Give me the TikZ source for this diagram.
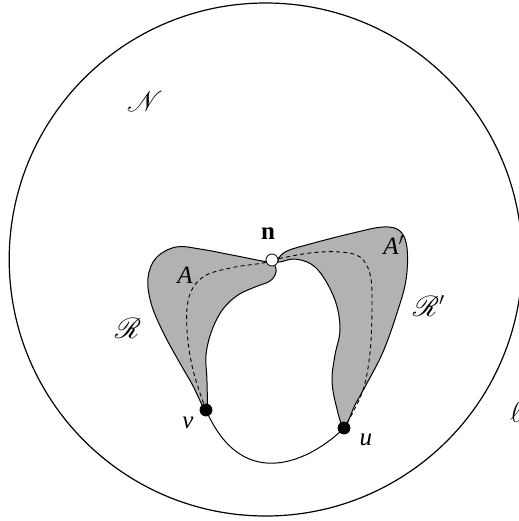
\documentclass[tikz,border=0pt]{standalone}
\usepackage{fontspec}
\setmainfont{Liberation Serif}
\usepackage{mathrsfs}
\tikzset{
  region/.style={draw=black, line width=0.5pt, fill=black!30},
  dashpath/.style={draw=black, line width=0.45pt, dash pattern=on 2pt off 1.6pt},
  blackdot/.style={circle, fill=black, draw=black, inner sep=0pt, minimum size=6pt},
  whitedot/.style={circle, fill=white, draw=black, line width=0.4pt, inner sep=0pt, minimum size=6pt},
  lbl/.style={inner sep=0pt, font=\fontsize{12.5}{14}\selectfont},
  slbl/.style={inner sep=0pt, font=\fontsize{13.5}{15}\selectfont}
}
\begin{document}
\begin{tikzpicture}[x=0.5pt,y=-0.5pt]
\useasboundingbox (0,0) rectangle (519,521);
% big circle
\coordinate (cc) at (265.7,259.5);
\draw[line width=0.6pt] (cc) circle[radius=128.25pt];
% nodes positions
\coordinate (vp) at (206,410);
\coordinate (up) at (344,428);
\coordinate (np) at (272,260);
% left region R
\filldraw[region] plot[smooth cycle, tension=0.6] coordinates {
 (206,410) (192,384) (177,358) (162,330) (151,303) (148,278) (156,258) (176,247)
 (200,249) (232,255) (262,261) (273,263) (276,272) (270,281) (255,287)
 (238,295) (223,309) (212,330) (206,355) (207,382)};
% right region R'
\filldraw[region] plot[smooth cycle, tension=0.6] coordinates {
 (344,427) (336,405) (332,380) (335,355) (340,330) (336,303) (324,278) (311,264)
 (294,259) (278,262) (285,252) (310,244) (353,233) (383,227) (400,231)
 (407,248) (406,280) (397,313) (383,352) (366,385) (355,405)};
% dashed paths
\draw[dashpath] plot[smooth, tension=0.6] coordinates {
 (206,410) (193,370) (187,330) (189,297) (203,277) (230,268) (263,263) (272,260)};
\draw[dashpath] plot[smooth, tension=0.6] coordinates {
 (272,260) (310,253) (340,252) (360,257) (370,274) (372,303) (370,353) (362,393) (344,428)};
% arc v-u
\draw[line width=0.5pt] (vp) .. controls (244,497) and (314,458) .. (up);
% dots
\node[blackdot] (v) at (vp) {};
\node[blackdot] (u) at (up) {};
\node[whitedot] (n) at (np) {};
% labels
\node[lbl] (nl) at (268,234) {\textbf{n}};
\node[lbl] (vl) at (188,423) {\textit{v}};
\node[lbl] (ul) at (366,440) {\textit{u}};
\node[lbl] (Al) at (185,275) {\textit{A}};
\node[lbl] (Apl) at (394,245) {\textit{A}$'$};
\node[slbl] (Rl) at (128,328) {$\mathscr{R}$};
\node[slbl] (Rpl) at (429,306) {$\mathscr{R}'$};
\node[slbl] (Nl) at (145,101) {$\mathscr{N}$};
\node[slbl] (ll) at (516,412) {$\ell$};
\end{tikzpicture}
\end{document}
